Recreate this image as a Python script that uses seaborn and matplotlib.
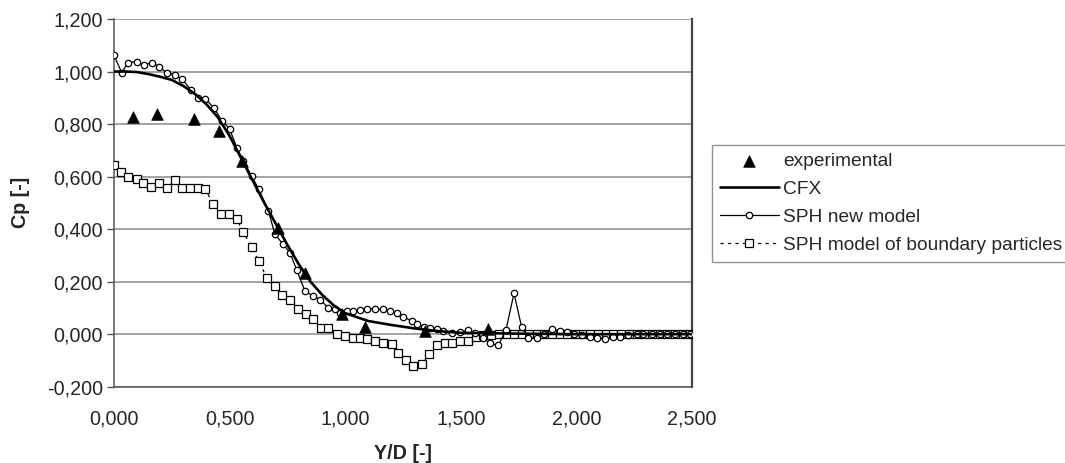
import matplotlib
matplotlib.use("Agg")
import matplotlib.pyplot as plt
import seaborn as sns
import pandas as pd

# ---- data ----
exp_x = [0.084, 0.185, 0.346, 0.454, 0.552, 0.711, 0.826, 0.985, 1.086, 1.345, 1.619]
exp_y = [0.827, 0.837, 0.818, 0.772, 0.659, 0.405, 0.234, 0.075, 0.028, 0.011, 0.018]

cfx_x = [0.0, 0.05, 0.1, 0.15, 0.2, 0.25, 0.3, 0.35, 0.4, 0.45, 0.5, 0.55, 0.6, 0.65, 0.7,
         0.75, 0.8, 0.85, 0.9, 0.95, 1.0, 1.1, 1.2, 1.3, 1.4, 1.5, 1.75, 2.0, 2.25, 2.5]
cfx_y = [1.0, 1.0, 0.998, 0.99, 0.98, 0.968, 0.945, 0.915, 0.875, 0.825, 0.755, 0.67, 0.585, 0.5, 0.42,
         0.34, 0.265, 0.2, 0.15, 0.11, 0.08, 0.05, 0.035, 0.022, 0.012, 0.005, 0.002, 0.0, 0.0, 0.0]

sph_x = [0.0, 0.033, 0.062, 0.098, 0.13, 0.164, 0.195, 0.229, 0.264, 0.296,
         0.332, 0.365, 0.394, 0.434, 0.466, 0.5, 0.531, 0.56, 0.595, 0.627,
         0.668, 0.696, 0.732, 0.761, 0.79, 0.826, 0.862, 0.891, 0.927, 0.955,
         0.977, 1.006, 1.035, 1.064, 1.096, 1.129, 1.162, 1.194, 1.223, 1.252,
         1.288, 1.31, 1.339, 1.367, 1.396, 1.425, 1.46, 1.496, 1.532, 1.561,
         1.597, 1.626, 1.662, 1.695, 1.73, 1.763, 1.792, 1.828, 1.86, 1.893,
         1.929, 1.958, 1.99, 2.025, 2.06, 2.09, 2.125, 2.16, 2.19, 2.225,
         2.26, 2.29, 2.325, 2.36, 2.39, 2.425, 2.46, 2.49]
sph_y = [1.062, 0.996, 1.034, 1.038, 1.024, 1.034, 1.019, 0.994, 0.987, 0.97,
         0.93, 0.9, 0.897, 0.86, 0.813, 0.782, 0.71, 0.66, 0.602, 0.551,
         0.469, 0.38, 0.342, 0.31, 0.245, 0.164, 0.145, 0.132, 0.1, 0.094,
         0.082, 0.088, 0.088, 0.091, 0.097, 0.097, 0.094, 0.088, 0.079, 0.066,
         0.05, 0.037, 0.028, 0.022, 0.018, 0.011, 0.005, 0.008, 0.015, 0.005,
         -0.014, -0.035, -0.043, 0.015, 0.155, 0.028, -0.014, -0.014, 0.0, 0.02,
         0.011, 0.008, 0.0, -0.005, -0.01, -0.015, -0.018, -0.012, -0.01, -0.005,
         0.0, 0.0, 0.0, 0.0, 0.0, 0.0, 0.0, 0.0]

bp_x = [0.0, 0.03, 0.062, 0.098, 0.127, 0.16, 0.196, 0.228, 0.264, 0.296,
        0.329, 0.365, 0.394, 0.43, 0.463, 0.497, 0.531, 0.56, 0.595, 0.627,
        0.66, 0.696, 0.728, 0.761, 0.797, 0.83, 0.862, 0.894, 0.927, 0.963,
        0.999, 1.035, 1.064, 1.096, 1.129, 1.165, 1.201, 1.23, 1.262, 1.295,
        1.331, 1.364, 1.396, 1.432, 1.463, 1.496, 1.532, 1.565, 1.598, 1.63,
        1.665, 1.698, 1.73, 1.763, 1.796, 1.83, 1.862, 1.895, 1.928, 1.96,
        1.994, 2.027, 2.06, 2.093, 2.126, 2.16, 2.193, 2.226, 2.26, 2.293,
        2.326, 2.36, 2.393, 2.426, 2.46, 2.493]
bp_y = [0.643, 0.617, 0.6, 0.589, 0.577, 0.562, 0.577, 0.556, 0.586, 0.556,
        0.558, 0.558, 0.551, 0.497, 0.456, 0.456, 0.437, 0.389, 0.331, 0.278,
        0.215, 0.183, 0.151, 0.132, 0.094, 0.075, 0.056, 0.024, 0.024, -0.001,
        -0.008, -0.014, -0.014, -0.02, -0.027, -0.033, -0.039, -0.071, -0.1, -0.122,
        -0.112, -0.077, -0.043, -0.033, -0.035, -0.027, -0.027, -0.01, -0.005, -0.005,
        0.0, 0.0, 0.0, 0.0, 0.0, 0.0, 0.0, 0.0, 0.0, 0.0,
        0.0, 0.0, 0.0, 0.0, 0.0, 0.0, 0.0, 0.0, 0.0, 0.0,
        0.0, 0.0, 0.0, 0.0, 0.0, 0.0]

x_ticks = [0.0, 0.5, 1.0, 1.5, 2.0, 2.5]
y_ticks = [-0.2, 0.0, 0.2, 0.4, 0.6, 0.8, 1.0, 1.2]

labels = ["experimental", "CFX", "SPH new model", "SPH model of boundary particles"]

# ---- style ----
sns.set_style("white")
plt.rcParams['font.family'] = ['Liberation Sans', 'DejaVu Sans']
FS = 14.2
LFS = 13.8

fig = plt.figure(figsize=(10.65, 4.63), dpi=100)
ax = fig.add_axes([114/1065, 1-386.7/463, (692-114)/1065, (386.7-19)/463])

grid_c = "#8a8a8a"
for yv in y_ticks:
    ax.axhline(yv, color=grid_c, lw=1.1, zorder=0)

sns.lineplot(x=bp_x, y=bp_y, ax=ax, sort=False, estimator=None, color="black",
             linestyle=(0, (2.5, 3.5)), lw=0.9, marker="s", markersize=6.2,
             markerfacecolor="white", markeredgecolor="black", markeredgewidth=0.9,
             label=labels[3], zorder=3)
sns.lineplot(x=sph_x, y=sph_y, ax=ax, sort=False, estimator=None, color="black",
             lw=0.9, marker="o", markersize=4.6, markerfacecolor="white",
             markeredgecolor="black", markeredgewidth=0.9, label=labels[2], zorder=4)
sns.lineplot(x=cfx_x, y=cfx_y, ax=ax, sort=False, estimator=None, color="black",
             lw=1.9, label=labels[1], zorder=5)
sns.scatterplot(x=exp_x, y=exp_y, ax=ax, marker="^", s=70, color="black",
                edgecolor="black", linewidth=0.5, label=labels[0], zorder=6)

ax.set_xlim(0, 2.5)
ax.set_ylim(-0.2, 1.2)
ax.set_xticks(x_ticks)
ax.set_yticks(y_ticks)
ax.set_xticklabels([f"{v:.3f}".replace(".", ",") for v in x_ticks], fontsize=FS)
ax.set_yticklabels([f"{v:.3f}".replace(".", ",") for v in y_ticks], fontsize=FS)
ax.tick_params(axis="y", left=True, length=5, width=1, color="#555555", pad=3)
ax.tick_params(axis="x", bottom=False, pad=13)
for s in ["left", "bottom"]:
    ax.spines[s].set_color("#555555")
    ax.spines[s].set_linewidth(1.1)
ax.spines["right"].set_color("#444444")
ax.spines["right"].set_linewidth(1.6)
ax.spines["top"].set_visible(False)

ax.set_xlabel("Y/D [-]", fontsize=FS, fontweight="bold", labelpad=11)
ax.set_ylabel("Cp [-]", fontsize=FS, fontweight="bold", labelpad=12)

h, l = ax.get_legend_handles_labels()
order = [l.index(n) for n in labels]
leg = ax.legend([h[i] for i in order], [l[i] for i in order],
                loc="upper left", bbox_to_anchor=(712/1065, 1-145/463),
                bbox_transform=fig.transFigure, borderaxespad=0,
                fontsize=LFS, frameon=True, fancybox=False, edgecolor="#777777",
                handlelength=3.1, handletextpad=0.2, labelspacing=0.55,
                borderpad=0.4)
leg.get_frame().set_linewidth(1.0)

fig.savefig("out.png", dpi=100, facecolor="white")
